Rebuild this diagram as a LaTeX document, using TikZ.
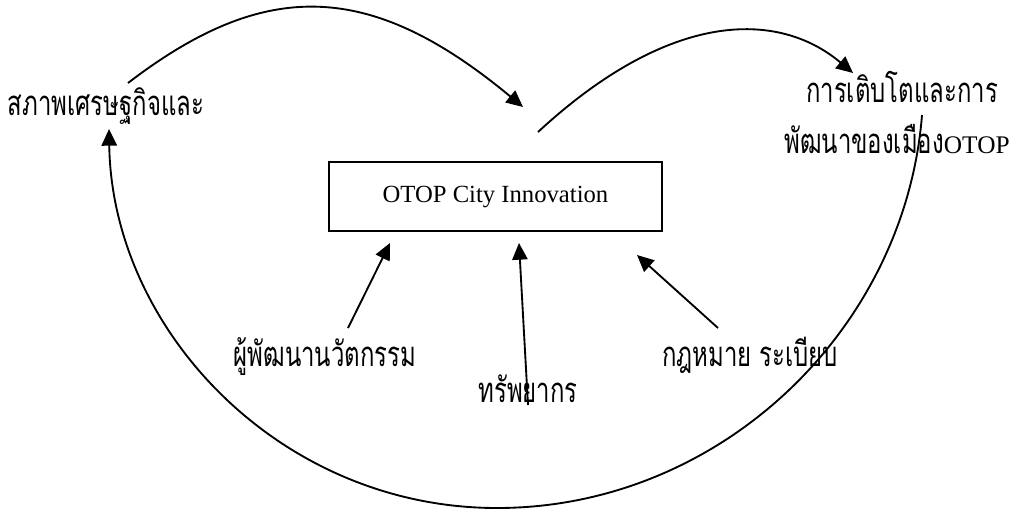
\documentclass[tikz,border=0pt]{standalone}
\usepackage{fontspec}
\setmainfont{Liberation Serif}
\newfontfamily\thai[Script=Thai,FakeStretch=0.69]{Loma}
\usetikzlibrary{arrows.meta}
\begin{document}
\begin{tikzpicture}[x=0.75pt,y=-0.75pt,
  link/.style={line width=1.4pt,-{Triangle[length=12.5pt,width=11.5pt]}},
  plainlink/.style={line width=1.4pt},
  thailabel/.style={inner sep=0pt,anchor=base,font=\thai\fontsize{26}{30}\selectfont},
  mainbox/.style={draw,line width=1.4pt,minimum width=249.75pt,minimum height=51.75pt,
    inner sep=0pt,font=\fontsize{18.5}{22}\selectfont}]
\useasboundingbox (0,0) rectangle (1016,512);

% central box
\node[mainbox] (city) at (495.5,196.5) {OTOP City Innovation};

% labels
\node[thailabel] (econ) at (106,115) {สภาพเศรษฐกิจและ};
\node[thailabel] (grow1) at (902,102) {การเติบโตและการ};
\node[thailabel] (grow2) at (897,153) {พัฒนาของเมือง{\rmfamily\fontsize{19}{22}\selectfont OTOP}};
\node[thailabel] (inno) at (325,366) {ผู้พัฒนานวัตกรรม};
\node[thailabel] (res) at (528,402) {ทรัพยากร};
\node[thailabel] (law) at (750,366) {กฎหมาย ระเบียบ};

% connector end points
\coordinate (a1) at (128,83);
\coordinate (a2) at (523,107);
\coordinate (b1) at (538,132);
\coordinate (b2) at (853,73);
\coordinate (c1) at (922,115);
\coordinate (c2) at (497,508);
\coordinate (c3) at (109,129);
\coordinate (i1) at (348,328);
\coordinate (i2) at (390,243);
\coordinate (r1) at (528,405);
\coordinate (r2) at (519,243);
\coordinate (l1) at (718,328);
\coordinate (l2) at (637,255);

% feedback arcs
\draw[link] (a1) .. controls (265,-22) and (370,-20) .. (a2);
\draw[link] (b1) .. controls (670,10) and (778,10) .. (b2);
\draw[plainlink] (c1) .. controls (905,330) and (720,508) .. (c2);
\draw[link] (c2) .. controls (280,508) and (112,330) .. (c3);

% inputs to the box
\draw[link] (i1) -- (i2);
\draw[link] (r1) -- (r2);
\draw[link] (l1) -- (l2);
\end{tikzpicture}
\end{document}
